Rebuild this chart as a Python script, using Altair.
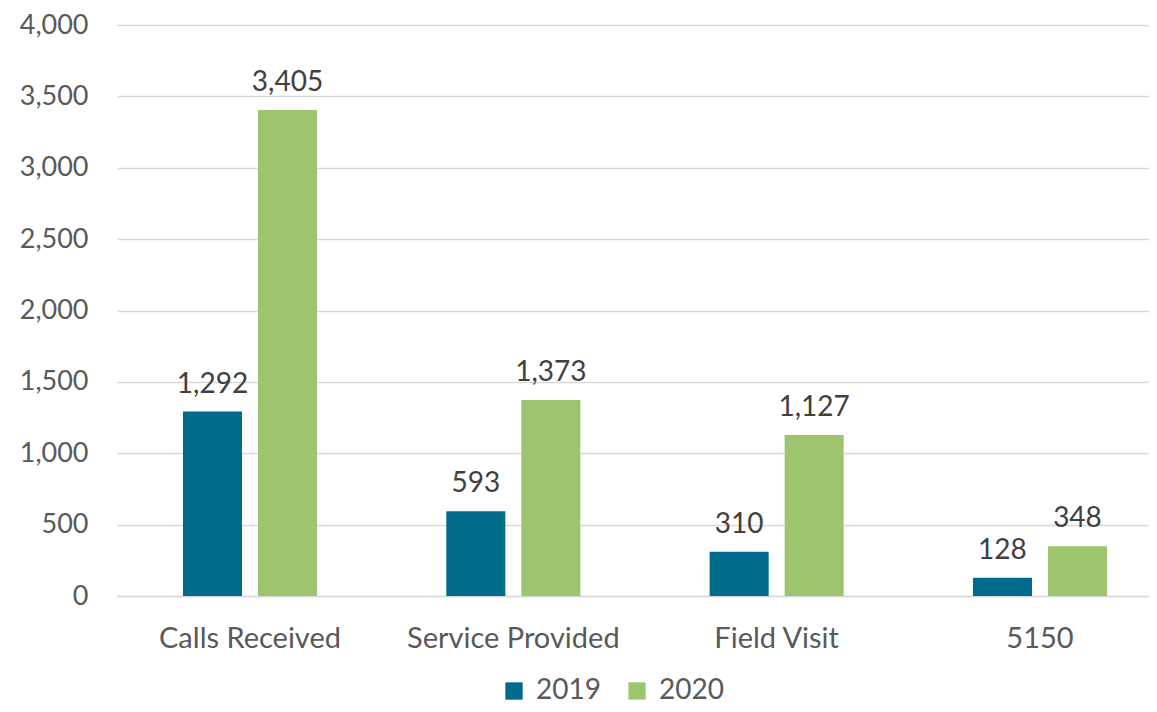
import altair as alt
import pandas as pd

categories = ["Calls Received", "Service Provided", "Field Visit", "5150"]
years = ["2019", "2020"]
values_2019 = [1292, 593, 310, 128]
values_2020 = [3405, 1373, 1127, 348]

rows = []
for c, a, b in zip(categories, values_2019, values_2020):
    rows.append({"category": c, "year": "2019", "value": a})
    rows.append({"category": c, "year": "2020", "value": b})
df = pd.DataFrame(rows)

FONT = "Lato"
GREY = "#595959"
FS = 28
colors = ["#006B8B", "#9DC56F"]

x = alt.X("category:N", sort=categories, title=None,
          scale=alt.Scale(paddingInner=0.491, paddingOuter=0.205, align=0.611),
          axis=alt.Axis(labelAngle=0, labelFontSize=29, labelColor=GREY, labelFont=FONT,
                        labelPadding=28, labelLimit=400, ticks=False,
                        domainColor="#D9D9D9", domainWidth=1.5))
xo = alt.XOffset("year:N", sort=years, scale=alt.Scale(paddingInner=0.213))
y = alt.Y("value:Q", title=None,
          scale=alt.Scale(domain=[0, 4000], nice=False),
          axis=alt.Axis(values=list(range(0, 4001, 500)), format=",.0f", labelFontSize=27,
                        labelColor=GREY, labelFont=FONT, labelPadding=29, ticks=False,
                        domain=False, gridColor="#D9D9D9", gridWidth=1.5))

base = alt.Chart(df)
bars = base.mark_bar().encode(
    x=x, xOffset=xo, y=y,
    color=alt.Color("year:N", sort=years, scale=alt.Scale(domain=years, range=colors),
                    legend=alt.Legend(title=None, orient="none", direction="horizontal",
                                      legendX=383, legendY=652, symbolType="square",
                                      symbolSize=300, symbolStrokeWidth=0,
                                      labelFontSize=FS, labelColor=GREY, labelFont=FONT,
                                      columnPadding=22, symbolOffset=0, labelOffset=8)),
)
labels = base.mark_text(baseline="alphabetic", dy=-19, fontSize=FS, color="#404040", font=FONT).encode(
    x=x, xOffset=xo, y=y,
    text=alt.Text("value:Q", format=",.0f"),
)

chart = (bars + labels).properties(
    width=1032, height=571,
    autosize=alt.AutoSizeParams(type="none"),
    padding={"left": 109, "top": 17, "right": 0, "bottom": 108},
).configure_view(stroke=None)

chart.save("out.html", embed_options={"renderer": "svg", "actions": False})
